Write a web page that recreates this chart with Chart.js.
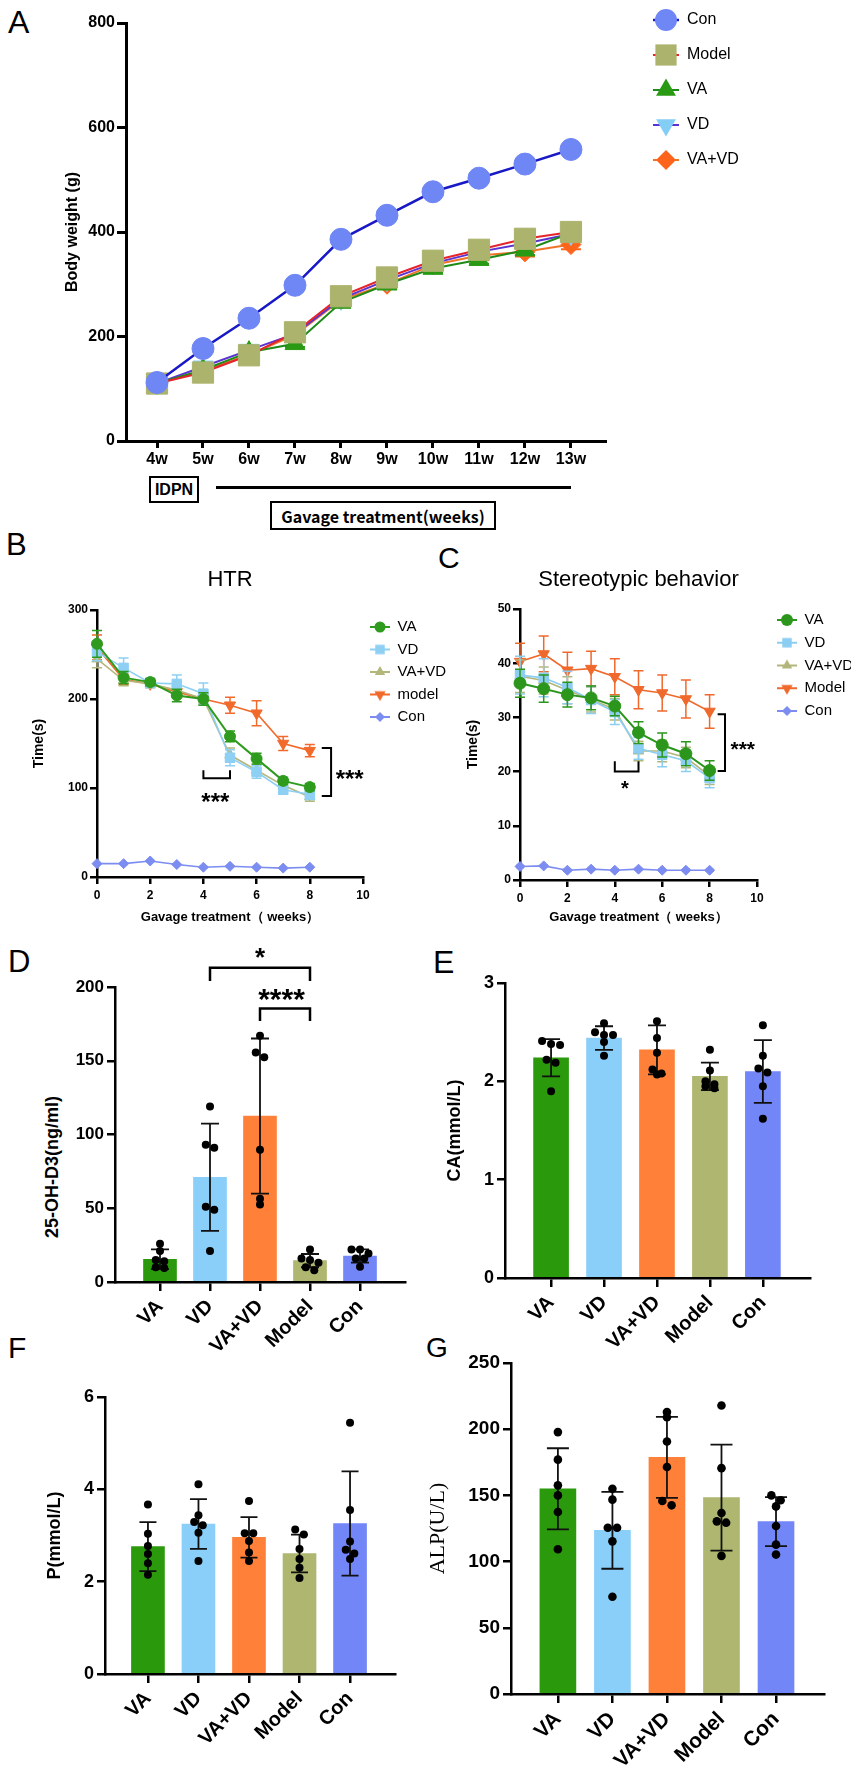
<!DOCTYPE html>
<html><head><meta charset="utf-8"><title>Figure</title>
<script src="https://cdn.jsdelivr.net/npm/chart.js@4.4.1/dist/chart.umd.min.js"></script>
<style>
html,body{margin:0;padding:0;background:#fff;}
#fig{position:relative;width:851px;height:1777px;overflow:hidden;background:#fff;font-family:"Liberation Sans",Arial,sans-serif;color:#000;}
#fig canvas{position:absolute;}
.pl{position:absolute;line-height:1;font-weight:normal;white-space:nowrap;}
.bx{position:absolute;box-sizing:border-box;border:2px solid #000;font-weight:bold;display:flex;align-items:center;justify-content:center;white-space:nowrap;}
.rt{position:absolute;white-space:nowrap;transform:translate(-50%,-50%) rotate(-90deg);font-weight:bold;line-height:1;}
</style></head><body><div id="fig">
<div class="pl" style="left:8px;top:6px;font-size:32px">A</div>
<div class="pl" style="left:6px;top:529px;font-size:31px">B</div>
<div class="pl" style="left:438px;top:543px;font-size:30px">C</div>
<div class="pl" style="left:8px;top:946px;font-size:31px">D</div>
<div class="pl" style="left:433px;top:946px;font-size:32px">E</div>
<div class="pl" style="left:8px;top:1333px;font-size:30px">F</div>
<div class="pl" style="left:426px;top:1334px;font-size:28px">G</div>
<div class="bx" style="left:149px;top:476px;width:50px;height:27px;font-size:16px;">IDPN</div>
<div style="position:absolute;left:216px;top:486px;width:355px;height:3px;background:#000;"></div>
<div class="bx" style="left:270px;top:501px;width:226px;height:29px;font-size:16px;font-family:'Noto Sans CJK KR','Noto Sans',sans-serif;">Gavage treatment(weeks)</div>
<div class="rt" style="left:52px;top:1167px;font-size:18px;">25-OH-D3(ng/ml)</div>
</div>
<script>
// ================= DATA =================
// Panel A : body weight
const weeksA = [4, 5, 6, 7, 8, 9, 10, 11, 12, 13];
const weekLabelsA = ['4w', '5w', '6w', '7w', '8w', '9w', '10w', '11w', '12w', '13w'];
const yTicksA = [0, 200, 400, 600, 800];
const conA = [112, 177, 235, 298, 386, 432, 477, 503, 530, 558];
const conA_sd = [5, 6, 6, 7, 7, 8, 8, 9, 10, 9];
const modelA = [110, 131, 164, 208, 277, 313, 345, 366, 387, 400];
const modelA_sd = [5, 6, 6, 8, 8, 8, 9, 9, 10, 10];
const vaA = [110, 136, 170, 186, 265, 300, 330, 347, 365, 398];
const vaA_sd = [5, 6, 6, 6, 7, 8, 8, 8, 9, 10];
const vdA = [110, 142, 174, 205, 272, 308, 340, 362, 378, 396];
const vdA_sd = [5, 7, 7, 7, 8, 8, 9, 9, 9, 10];
const vavdA = [110, 134, 165, 203, 270, 300, 337, 355, 362, 376];
const vavdA_sd = [5, 6, 6, 7, 8, 8, 9, 9, 9, 9];

// Panels B & C : behaviour over gavage weeks
const weeksBC = [0, 1, 2, 3, 4, 5, 6, 7, 8];
const xTicksBC = [0, 2, 4, 6, 8, 10];
const yTicksB = [0, 100, 200, 300];
const yTicksC = [0, 10, 20, 30, 40, 50];
const vaB = [262, 224, 219, 204, 200, 158, 133, 108, 101];
const vaB_sd = [15, 7, 4, 7, 7, 6, 6, 4, 4];
const vdB = [253, 235, 218, 217, 206, 134, 118, 98, 93];
const vdB_sd = [10, 11, 5, 10, 12, 9, 7, 5, 6];
const vavdB = [245, 221, 217, 210, 200, 137, 120, 103, 90];
const vavdB_sd = [10, 6, 4, 5, 5, 8, 6, 5, 5];
const modelB = [258, 222, 217, 208, 200, 193, 184, 150, 142];
const modelB_sd = [14, 6, 4, 6, 6, 9, 14, 8, 7];
const conB = [15, 15, 18, 14, 11, 12, 11, 10, 11];
const conB_sd = [1, 1, 1, 1, 1, 1, 1, 1, 1];

const vaC = [36.3, 35.3, 34.2, 33.6, 32.1, 27.2, 24.9, 23.3, 20.2];
const vaC_sd = [2.6, 2.5, 2.3, 2.2, 1.8, 2.0, 2.2, 2.2, 1.8];
const vdC = [37.8, 37.3, 35.5, 33.2, 31.0, 24.3, 23.1, 22.0, 18.8];
const vdC_sd = [3.5, 3.5, 3.0, 2.5, 2.3, 2.0, 2.2, 2.0, 1.8];
const vavdC = [37.6, 36.8, 35.0, 33.3, 31.5, 23.8, 23.8, 22.6, 19.2];
const vavdC_sd = [3.0, 2.5, 2.5, 2.3, 2.0, 1.8, 2.0, 1.9, 1.6];
const modelC = [40.3, 41.7, 38.7, 39.0, 37.5, 35.1, 34.5, 33.4, 31.1];
const modelC_sd = [3.4, 3.3, 3.3, 3.2, 3.3, 3.5, 3.3, 3.5, 3.1];
const conC = [2.5, 2.6, 1.8, 2.0, 1.8, 2.0, 1.8, 1.8, 1.8];
const conC_sd = [0.2, 0.2, 0.2, 0.2, 0.2, 0.2, 0.2, 0.2, 0.2];

// Panels D-G : serum markers
const groups = ['VA', 'VD', 'VA+VD', 'Model', 'Con'];
const yTicksD = [0, 50, 100, 150, 200];
const ohd3Mean = [15.4, 71.0, 112.5, 14.5, 17.6];
const ohd3Sd = [6.7, 36.4, 52.6, 4.5, 4.5];
const ohd3Dots = [[26, 21, 15, 14, 10, 9.5], [119, 93, 91, 51, 49, 21], [167, 155.6, 152.3, 89.6, 56.5, 52.5], [22, 16, 15, 13, 10, 8], [22, 22, 19.4, 16, 16, 10.4]];

const yTicksE = [0, 1, 2, 3];
const caMean = [2.24, 2.44, 2.32, 2.05, 2.10];
const caSd = [0.19, 0.12, 0.25, 0.14, 0.32];
const caDots = [[2.41, 2.38, 2.37, 2.22, 2.19, 1.90], [2.59, 2.50, 2.47, 2.47, 2.40, 2.26], [2.61, 2.44, 2.29, 2.12, 2.08, 2.07], [2.32, 2.11, 2.00, 1.97, 1.95, 1.93], [2.57, 2.26, 2.13, 2.09, 1.95, 1.62]];

const yTicksF = [0, 2, 4, 6];
const pMean = [2.76, 3.25, 2.96, 2.61, 3.26];
const pSd = [0.53, 0.54, 0.44, 0.41, 1.13];
const pDots = [[3.67, 3.04, 2.77, 2.60, 2.40, 2.15], [4.11, 3.44, 3.29, 3.22, 3.06, 2.45], [3.75, 3.05, 3.05, 2.88, 2.63, 2.45], [3.13, 3.02, 2.71, 2.49, 2.30, 2.08], [5.44, 3.55, 2.87, 2.69, 2.61, 2.49]];

const yTicksG = [0, 50, 100, 150, 200, 250];
const alpMean = [155, 123.6, 178.7, 148.3, 130.2];
const alpSd = [30.6, 29, 30.6, 40, 18.5];
const alpDots = [[197.8, 177, 157.6, 150, 137.5, 109.3], [155, 146.8, 125.6, 125.6, 115.3, 73.4], [212.9, 209, 190.7, 171.4, 145.8, 142.5], [217.9, 170.6, 136.7, 130.4, 129.4, 104.3], [150, 146.3, 141.7, 126.9, 112.8, 105.3]];

// significance annotations (data coordinates)
const sigB = [
  {path: [[4, 120], [4, 111], [5, 111], [5, 120]], lw: 2},
  {text: '***', at: [4.45, 91], size: 24},
  {path: [[8.45, 145], [8.8, 145], [8.8, 91], [8.45, 91]], lw: 2},
  {text: '***', at: [9.5, 117], size: 24}
];
const sigC = [
  {path: [[4, 21.9], [4, 20], [5, 20], [5, 21.9]], lw: 2},
  {text: '*', at: [4.43, 17.7], size: 20},
  {path: [[8.34, 30.6], [8.65, 30.6], [8.65, 20.1], [8.34, 20.1]], lw: 2},
  {text: '***', at: [9.4, 25.0], size: 21}
];
const sigD = [
  {path: [[1, 204], [1, 213], [3, 213], [3, 204]], lw: 2.5},
  {text: '*', at: [2, 224], size: 26},
  {path: [[2, 177], [2, 185.5], [3, 185.5], [3, 177]], lw: 2.5},
  {text: '****', at: [2.43, 197], size: 30}
];

// ================= STYLE / HELPERS =================
const LS = '"Liberation Sans", Arial, Helvetica, sans-serif';
const LSN = '"Liberation Sans Narrow", "Liberation Sans", Arial, sans-serif';
const SERIF = '"Liberation Serif", "Times New Roman", serif';
Chart.defaults.font.family = LS;
Chart.defaults.color = '#000';
const barColors = ['#2A9A0C', '#89CFFA', '#FF8038', '#AEB66F', '#7286F7'];
const fig = document.getElementById('fig');

function mkCanvas(x, y, w, h) {
  const c = document.createElement('canvas');
  c.width = w; c.height = h;
  Object.assign(c.style, {left: x + 'px', top: y + 'px', width: w + 'px', height: h + 'px'});
  fig.appendChild(c);
  return c;
}

function shapePath(g, shape, x, y, r) {
  g.beginPath();
  if (shape === 'circle') g.arc(x, y, r, 0, Math.PI * 2);
  else if (shape === 'rect') { const s = r * Math.SQRT1_2; g.rect(x - s, y - s, 2 * s, 2 * s); }
  else if (shape === 'triangle' || shape === 'triangleDown') {
    const d = shape === 'triangle' ? 1 : -1;
    for (let k = 0; k < 3; k++) {
      const a = k * 2 * Math.PI / 3;
      const px = x + Math.sin(a) * r, py = y - d * Math.cos(a) * r;
      if (k) g.lineTo(px, py); else g.moveTo(px, py);
    }
    g.closePath();
  } else if (shape === 'rectRot') { g.moveTo(x, y - r); g.lineTo(x + r, y); g.lineTo(x, y + r); g.lineTo(x - r, y); g.closePath(); }
}
function makeIcon(shape, fill, lineColor, r, w, h, lw) {
  const c = document.createElement('canvas'); c.width = w; c.height = h;
  const g = c.getContext('2d');
  g.strokeStyle = lineColor; g.lineWidth = lw;
  g.beginPath(); g.moveTo(0, h / 2); g.lineTo(w, h / 2); g.stroke();
  g.fillStyle = fill; shapePath(g, shape, w / 2, h / 2, r); g.fill();
  return c;
}

function lineDs(label, xs, ys, sd, o) {
  return {
    label, data: xs.map((x, i) => ({x, y: ys[i]})),
    errors: sd, errColor: o.err || o.fill, errWidth: o.ew, errCap: o.cap,
    borderColor: o.line, borderWidth: o.lw, backgroundColor: o.fill,
    pointStyle: o.style === 'triangleDown' ? 'triangle' : o.style,
    pointRotation: o.style === 'triangleDown' ? 180 : 0,
    pointRadius: o.r, pointBackgroundColor: o.fill, pointBorderColor: o.fill, pointBorderWidth: 1,
    fill: false, tension: 0, clip: false,
    legendIcon: makeIcon(o.style, o.fill, o.line, o.lr || o.r, o.iw, o.ih, o.ilw || o.lw)
  };
}

function axis(o) {
  return {
    type: 'linear', position: o.pos, min: o.min, max: o.max, offset: false,
    border: {display: true, color: '#000', width: o.lw},
    grid: {display: true, drawOnChartArea: false, drawTicks: true, tickLength: o.tl, tickWidth: o.lw, tickColor: '#000', color: '#000', lineWidth: o.lw, offset: false},
    ticks: {color: '#000', font: o.font, padding: o.pad, autoSkip: false, maxRotation: o.rot || 0, minRotation: o.rot || 0,
      callback: (v) => { const i = o.ticks.indexOf(v); return i < 0 ? '' : (o.labels ? o.labels[i] : String(v)); }},
    afterBuildTicks: (s) => { s.ticks = o.ticks.map(v => ({value: v})); },
    afterFit: (s) => { if (o.pos === 'left') s.width = o.size; else s.height = o.size; },
    title: o.title ? {display: true, text: o.title, color: '#000', font: o.titleFont, padding: o.titlePad} : {display: false}
  };
}

function legendOpts(fontSize, family, pad, iconW) {
  return {display: true, position: 'chartArea', align: 'start',
    labels: {usePointStyle: true, pointStyleWidth: iconW, padding: pad, color: '#000',
      font: {size: fontSize, family: family, weight: 'normal'},
      generateLabels: (chart) => chart.data.datasets.map((d, i) => ({
        text: d.label, pointStyle: d.legendIcon, rotation: 0, fillStyle: d.backgroundColor,
        strokeStyle: d.borderColor, lineWidth: 0, hidden: false, datasetIndex: i, fontColor: '#000'}))}};
}
function legendAt(iconLeft, firstCenterY, pad, fs) {
  return {id: 'legendAt', afterLayout(chart) {
    const lg = chart.legend; if (!lg) return;
    const w = lg.width, h = lg.height;
    lg.left = iconLeft - pad; lg.right = lg.left + w;
    lg.top = firstCenterY - fs / 2 - pad; lg.bottom = lg.top + h;
  }};
}

function drawErr(chart, idx, after) {
  const ds = chart.data.datasets[idx];
  if (!ds || !ds.errors || (!!ds.errAfter) !== after) return;
  const meta = chart.getDatasetMeta(idx);
  const ys = chart.scales.y, ctx = chart.ctx;
  ctx.save();
  ctx.strokeStyle = ds.errColor; ctx.lineWidth = ds.errWidth; ctx.lineCap = 'butt';
  meta.data.forEach((el, i) => {
    const raw = ds.data[i]; const v = typeof raw === 'object' ? raw.y : raw; const e = ds.errors[i];
    const x = el.x, y1 = ys.getPixelForValue(v + e), y0 = ys.getPixelForValue(v - e), h = ds.errCap / 2;
    ctx.beginPath();
    ctx.moveTo(x, y1); ctx.lineTo(x, y0);
    ctx.moveTo(x - h, y1); ctx.lineTo(x + h, y1);
    ctx.moveTo(x - h, y0); ctx.lineTo(x + h, y0);
    ctx.stroke();
  });
  ctx.restore();
}
const errBars = {id: 'errBars',
  beforeDatasetDraw(chart, args) { drawErr(chart, args.index, false); },
  afterDatasetDraw(chart, args) { drawErr(chart, args.index, true); }};

function sigMarks(items) {
  return {id: 'sigMarks', afterDatasetsDraw(chart) {
    const ctx = chart.ctx, xs = chart.scales.x, ys = chart.scales.y;
    ctx.save();
    items.forEach(it => {
      if (it.path) {
        ctx.strokeStyle = '#000'; ctx.lineWidth = it.lw; ctx.lineJoin = 'miter'; ctx.beginPath();
        it.path.forEach((p, j) => { const X = xs.getPixelForValue(p[0]), Y = ys.getPixelForValue(p[1]); if (j) ctx.lineTo(X, Y); else ctx.moveTo(X, Y); });
        ctx.stroke();
      }
      if (it.text) {
        ctx.fillStyle = '#000'; ctx.font = 'bold ' + it.size + 'px ' + LS;
        ctx.textAlign = 'center'; ctx.textBaseline = 'alphabetic';
        ctx.fillText(it.text, xs.getPixelForValue(it.at[0]), ys.getPixelForValue(it.at[1]) + it.size * 0.57);
      }
    });
    ctx.restore();
  }};
}

function swarm(groupVals, thr, step) {
  const pts = [];
  groupVals.forEach((vals, gi) => {
    const sorted = vals.slice().sort((a, b) => b - a);
    const rows = [];
    sorted.forEach(v => { const row = rows[rows.length - 1]; if (row && row[0] - v < thr) row.push(v); else rows.push([v]); });
    rows.forEach(row => row.forEach((v, j) => pts.push({x: gi + (j - (row.length - 1) / 2) * step, y: v})));
  });
  return pts;
}
function barData(means, sds, dots, thr, bw, cap, dotR) {
  return {datasets: [
    {type: 'scatter', label: 'individual', data: swarm(dots, thr, 0.17), pointRadius: dotR, pointBackgroundColor: '#000',
      pointBorderColor: '#000', pointBorderWidth: 0, backgroundColor: '#000', borderColor: '#000', order: 1, clip: false},
    {type: 'bar', label: 'mean', data: means.map((v, i) => ({x: i, y: v})), backgroundColor: barColors, borderWidth: 0,
      barThickness: bw, errors: sds, errAfter: true, errColor: '#111', errWidth: 1.8, errCap: cap, order: 2, clip: false}
  ]};
}
const catIdx = groups.map((g, i) => i);
const baseOpts = {responsive: false, maintainAspectRatio: false, animation: false, events: [], devicePixelRatio: 1};

// ================= PANEL A =================
(function () {
  const cx = 0, cy = 0, cw = 851, ch = 470;
  const P = {l: 126, t: 23, r: 605, b: 441};
  const ic = {iw: 26, ih: 28};
  new Chart(mkCanvas(cx, cy, cw, ch), {
    type: 'line',
    data: {datasets: [
      lineDs('Con', weeksA, conA, conA_sd, Object.assign({fill: '#6F86F5', line: '#1818C6', style: 'circle', r: 11, lw: 2.5, cap: 20, ew: 2, err: '#6F86F5'}, ic)),
      lineDs('Model', weeksA, modelA, modelA_sd, Object.assign({fill: '#ACB36D', line: '#E5232B', style: 'rect', r: 15, lw: 2, cap: 20, ew: 2}, ic)),
      lineDs('VA', weeksA, vaA, vaA_sd, Object.assign({fill: '#2A9A15', line: '#1F8A18', style: 'triangle', r: 11.5, lw: 2, cap: 20, ew: 2}, ic)),
      lineDs('VD', weeksA, vdA, vdA_sd, Object.assign({fill: '#84CDF4', line: '#5A32D2', style: 'triangleDown', r: 11.5, lw: 2, cap: 20, ew: 2}, ic)),
      lineDs('VA+VD', weeksA, vavdA, vavdA_sd, Object.assign({fill: '#FF651A', line: '#F07428', style: 'rectRot', r: 10, lw: 2, cap: 20, ew: 2}, ic))
    ]},
    options: Object.assign({}, baseOpts, {
      layout: {padding: {left: 0, top: P.t - cy, right: cx + cw - P.r, bottom: 0}},
      scales: {
        x: axis({pos: 'bottom', min: 3.326, max: 13.74, ticks: weeksA, labels: weekLabelsA, lw: 3, tl: 7, pad: 2, font: {size: 16, weight: 'bold'}, size: cy + ch - P.b}),
        y: axis({pos: 'left', min: 0, max: 800, ticks: yTicksA, lw: 3, tl: 9, pad: 2, font: {size: 16, weight: 'bold'}, size: P.l - cx,
          title: 'Body weight (g)', titleFont: {size: 16, weight: 'bold'}, titlePad: {top: 73 - 9.6, bottom: 0}})
      },
      plugins: {legend: legendOpts(16, LS, 19, 26), title: {display: false}, tooltip: {enabled: false}}
    }),
    plugins: [errBars, legendAt(653 - cx, 20 - cy, 19, 16)]
  });
})();

// ================= PANEL B =================
(function () {
  const cx = 0, cy = 555, cw = 450, ch = 380;
  const P = {l: 97, t: 610, r: 363, b: 877};
  const ic = {iw: 20, ih: 14, ilw: 2};
  new Chart(mkCanvas(cx, cy, cw, ch), {
    type: 'line',
    data: {datasets: [
      lineDs('VA', weeksBC, vaB, vaB_sd, Object.assign({fill: '#2E9B1E', line: '#2E9B1E', style: 'circle', r: 5.5, lw: 2, cap: 10, ew: 1.5}, ic)),
      lineDs('VD', weeksBC, vdB, vdB_sd, Object.assign({fill: '#8ED0F4', line: '#8ED0F4', style: 'rect', r: 6.7, lw: 1.6, cap: 10, ew: 1.5}, ic)),
      lineDs('VA+VD', weeksBC, vavdB, vavdB_sd, Object.assign({fill: '#B3B77B', line: '#B3B77B', style: 'triangle', r: 6, lw: 1.6, cap: 10, ew: 1.5}, ic)),
      lineDs('model', weeksBC, modelB, modelB_sd, Object.assign({fill: '#F26A2B', line: '#F26A2B', style: 'triangleDown', r: 6.5, lw: 1.6, cap: 10, ew: 1.5}, ic)),
      lineDs('Con', weeksBC, conB, conB_sd, Object.assign({fill: '#7B8DF0', line: '#7B8DF0', style: 'rectRot', r: 5, lw: 1.6, cap: 8, ew: 1.2}, ic))
    ]},
    options: Object.assign({}, baseOpts, {
      layout: {padding: {left: 0, top: 0, right: cx + cw - P.r, bottom: 0}},
      scales: {
        x: axis({pos: 'bottom', min: 0, max: 10, ticks: xTicksBC, lw: 2.5, tl: 7, pad: 4, font: {size: 12, weight: 'bold'}, size: cy + ch - P.b,
          title: 'Gavage treatment（ weeks）', titleFont: {size: 13, weight: 'bold'}, titlePad: {top: 0, bottom: (cy + ch) - 917 - 7.8}}),
        y: axis({pos: 'left', min: 0, max: 300, ticks: yTicksB, lw: 2.5, tl: 7, pad: 2, font: {size: 12, weight: 'bold'}, size: P.l - cx,
          title: 'Time(s)', titleFont: {size: 14, weight: 'bold'}, titlePad: {top: 39 - cx - 8.4, bottom: 0}})
      },
      plugins: {
        title: {display: true, text: 'HTR', fullSize: false, color: '#000', font: {size: 22, family: LSN, weight: 'normal'},
          padding: {top: 580 - cy - 13.2, bottom: P.t - (580 + 13.2)}},
        legend: legendOpts(15, LSN, 7.5, 20), tooltip: {enabled: false}
      }
    }),
    plugins: [errBars, legendAt(370 - cx, 627 - cy, 7.5, 15), sigMarks(sigB)]
  });
})();

// ================= PANEL C =================
(function () {
  const cx = 420, cy = 555, cw = 431, ch = 380;
  const P = {l: 520, t: 609, r: 757, b: 880};
  const ic = {iw: 20, ih: 14, ilw: 2};
  new Chart(mkCanvas(cx, cy, cw, ch), {
    type: 'line',
    data: {datasets: [
      lineDs('VA', weeksBC, vaC, vaC_sd, Object.assign({fill: '#2B961B', line: '#2B961B', style: 'circle', r: 6, lw: 2, cap: 10, ew: 1.5}, ic)),
      lineDs('VD', weeksBC, vdC, vdC_sd, Object.assign({fill: '#8CCDF2', line: '#8CCDF2', style: 'rect', r: 6.7, lw: 1.6, cap: 10, ew: 1.5}, ic)),
      lineDs('VA+VD', weeksBC, vavdC, vavdC_sd, Object.assign({fill: '#B2B67A', line: '#B2B67A', style: 'triangle', r: 6, lw: 1.6, cap: 10, ew: 1.5}, ic)),
      lineDs('Model', weeksBC, modelC, modelC_sd, Object.assign({fill: '#F0692C', line: '#F0692C', style: 'triangleDown', r: 6.5, lw: 1.6, cap: 10, ew: 1.5}, ic)),
      lineDs('Con', weeksBC, conC, conC_sd, Object.assign({fill: '#7C8CF0', line: '#7C8CF0', style: 'rectRot', r: 5, lw: 1.6, cap: 8, ew: 1.2}, ic))
    ]},
    options: Object.assign({}, baseOpts, {
      layout: {padding: {left: 0, top: 0, right: cx + cw - P.r, bottom: 0}},
      scales: {
        x: axis({pos: 'bottom', min: 0, max: 10, ticks: xTicksBC, lw: 2.5, tl: 7, pad: 4, font: {size: 12, weight: 'bold'}, size: cy + ch - P.b,
          title: 'Gavage treatment（ weeks）', titleFont: {size: 13, weight: 'bold'}, titlePad: {top: 0, bottom: (cy + ch) - 917 - 7.8}}),
        y: axis({pos: 'left', min: 0, max: 50, ticks: yTicksC, lw: 2.5, tl: 7, pad: 2, font: {size: 12, weight: 'bold'}, size: P.l - cx,
          title: 'Time(s)', titleFont: {size: 14, weight: 'bold'}, titlePad: {top: 473 - cx - 8.4, bottom: 0}})
      },
      plugins: {
        title: {display: true, text: 'Stereotypic behavior', fullSize: false, color: '#000', font: {size: 22, family: LSN, weight: 'normal'},
          padding: {top: 580 - cy - 13.2, bottom: P.t - (580 + 13.2)}},
        legend: legendOpts(15, LSN, 7.75, 20), tooltip: {enabled: false}
      }
    }),
    plugins: [errBars, legendAt(777 - cx, 620 - cy, 7.75, 15), sigMarks(sigC)]
  });
})();

// ================= BAR PANELS =================
function barPanel(o) {
  const {cx, cy, cw, ch, P} = o;
  new Chart(mkCanvas(cx, cy, cw, ch), {
    type: 'bar',
    data: barData(o.means, o.sds, o.dots, o.thr, o.bw, o.cap, o.dotR),
    options: Object.assign({}, baseOpts, {
      layout: {padding: {left: 0, top: P.t - cy, right: cx + cw - P.r, bottom: 0}},
      scales: {
        x: axis({pos: 'bottom', min: o.xmin, max: o.xmax, ticks: catIdx, labels: groups, lw: 2.5, tl: 9, pad: o.lpad, rot: 45,
          font: {size: o.lfs, weight: 'bold'}, size: cy + ch - P.b}),
        y: axis({pos: 'left', min: 0, max: o.ticks[o.ticks.length - 1], ticks: o.ticks, lw: 2.5, tl: 8, pad: 3,
          font: {size: o.tfs, weight: 'bold'}, size: P.l - cx,
          title: o.title, titleFont: o.titleFont, titlePad: o.titlePad})
      },
      plugins: {legend: {display: false}, title: {display: false}, tooltip: {enabled: false}}
    }),
    plugins: o.sig ? [errBars, sigMarks(o.sig)] : [errBars]
  });
}
barPanel({cx: 0, cy: 935, cw: 425, ch: 420, P: {l: 115, t: 987, r: 405, b: 1282}, xmin: -0.9, xmax: 4.9,
  means: ohd3Mean, sds: ohd3Sd, dots: ohd3Dots, thr: 3.4, bw: 33, cap: 18, dotR: 4, ticks: yTicksD, tfs: 17, lfs: 20, lpad: 4, sig: sigD});
barPanel({cx: 425, cy: 935, cw: 426, ch: 420, P: {l: 505, t: 983, r: 810, b: 1278}, xmin: -0.87, xmax: 4.89,
  means: caMean, sds: caSd, dots: caDots, thr: 0.05, bw: 35, cap: 18, dotR: 4, ticks: yTicksE, tfs: 18, lfs: 20, lpad: 4,
  title: 'CA(mmol/L)', titleFont: {size: 18, weight: 'bold'}, titlePad: {top: 455 - 425 - 10.8, bottom: 0}});
barPanel({cx: 0, cy: 1355, cw: 425, ch: 422, P: {l: 105, t: 1397, r: 395, b: 1674}, xmin: -0.85, xmax: 4.89,
  means: pMean, sds: pSd, dots: pDots, thr: 0.11, bw: 33, cap: 17, dotR: 4, ticks: yTicksF, tfs: 18, lfs: 20, lpad: 4,
  title: 'P(mmol/L)', titleFont: {size: 18, weight: 'bold'}, titlePad: {top: 55 - 10.8, bottom: 0}});
barPanel({cx: 425, cy: 1345, cw: 426, ch: 432, P: {l: 511, t: 1363, r: 824, b: 1694}, xmin: -0.86, xmax: 4.88,
  means: alpMean, sds: alpSd, dots: alpDots, thr: 3.8, bw: 36, cap: 22, dotR: 4.3, ticks: yTicksG, tfs: 19, lfs: 21, lpad: 4,
  title: 'ALP(U/L)', titleFont: {size: 22, family: SERIF, weight: 'normal'}, titlePad: {top: 0, bottom: 0}});
</script></body></html>
